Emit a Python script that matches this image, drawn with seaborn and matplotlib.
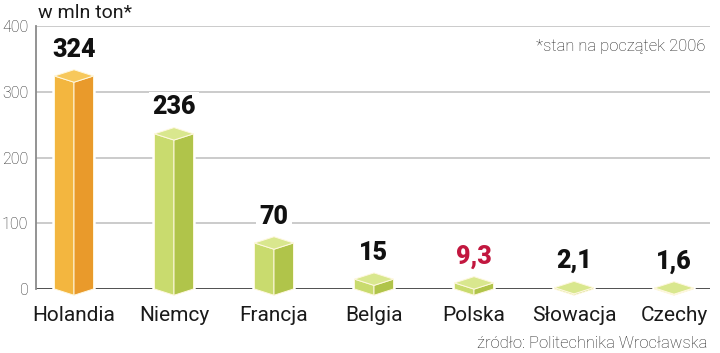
import matplotlib
matplotlib.use('Agg')
import matplotlib.pyplot as plt
import seaborn as sns
import pandas as pd
from matplotlib.patches import Polygon

categories = ['Holandia', 'Niemcy', 'Francja', 'Belgia', 'Polska', 'Słowacja', 'Czechy']
values = [324, 236, 70, 15, 9.3, 2.1, 1.6]
value_labels = ['324', '236', '70', '15', '9,3', '2,1', '1,6']
yticks = [0, 100, 200, 300, 400]

front_colors = ['#F3B63F'] + ['#C9DB6E'] * 6
side_colors = ['#E99A2B'] + ['#B0C44A'] * 6
top_colors = ['#F7C85C'] + ['#D9E78E'] * 6
label_colors = ['#111111'] * 4 + ['#C2173F'] + ['#111111'] * 2

sns.set_theme(style='white')
plt.rcParams['font.family'] = ['Roboto', 'DejaVu Sans']

fig = plt.figure(figsize=(7.2, 3.53), dpi=100)
ax = fig.add_axes([36 / 720, 1 - 289 / 353, 674 / 720, 263 / 353])
df = pd.DataFrame({'kraj': categories, 'wartosc': values})
sns.barplot(data=df, x='kraj', y='wartosc', hue='kraj', palette=front_colors,
            width=0.39, legend=False, ax=ax, saturation=1, zorder=3, linewidth=0)

ax.set_xlim(-0.38, 6.36)
ax.set_ylim(0, 400)

dd = 9.5  # depth of the prism top in data units
edge = '#FFF8E0'
for i, p in enumerate(ax.patches):
    x0 = p.get_x()
    w = p.get_width() / 2
    c = x0 + w
    v = p.get_height()
    p.set_linewidth(0)
    sil = Polygon([(c - w, 0), (c - w, v), (c, v + dd), (c + w, v), (c + w, 0), (c, -dd)],
                  closed=True, facecolor='white', edgecolor='white', lw=3.2,
                  zorder=2.5, clip_on=False)
    ax.add_patch(sil)
    left = Polygon([(c - w, 0), (c - w, v), (c, v - dd), (c, -dd)], closed=True,
                   facecolor=front_colors[i], edgecolor=edge, lw=0.7, zorder=3.2, clip_on=False)
    right = Polygon([(c, -dd), (c, v - dd), (c + w, v), (c + w, 0)], closed=True,
                    facecolor=side_colors[i], edgecolor=edge, lw=0.7, zorder=3.2, clip_on=False)
    top = Polygon([(c - w, v), (c, v + dd), (c + w, v), (c, v - dd)], closed=True,
                  facecolor=top_colors[i], edgecolor=edge, lw=0.7, zorder=3.3, clip_on=False)
    for poly in (left, right, top):
        ax.add_patch(poly)
    ax.annotate(value_labels[i], (c, v), xytext=(0, 14), textcoords='offset points',
                ha='center', va='baseline', fontsize=18, fontweight='heavy',
                color=label_colors[i], zorder=4,
                bbox=dict(facecolor='white', edgecolor='none', pad=2.5))

for t in yticks[1:]:
    ax.axhline(t, color='#BDBDBD', lw=1.1, zorder=1)
ax.axhline(0, color='#1a1a1a', lw=1.8, zorder=2)

for s in ['top', 'right', 'bottom']:
    ax.spines[s].set_visible(False)
ax.spines['left'].set_color('#8a8a8a')
ax.spines['left'].set_linewidth(1.3)

ax.set_yticks(yticks)
ax.set_yticklabels([str(t) for t in yticks], fontsize=11.5, color='#2a2a2a', fontweight='light')
ax.tick_params(axis='y', length=0, pad=5.5)
ax.tick_params(axis='x', length=0, pad=12, labelsize=15, labelcolor='#1a1a1a')
ax.set_xlabel('')
ax.set_ylabel('')

fig.text(38 / 720, 1 - 13 / 353, 'w mln ton*', fontsize=14, ha='left', va='center', color='#1a1a1a')
fig.text(706 / 720, 1 - 46 / 353, '*stan na początek 2006', fontsize=12, ha='right', va='center',
         color='#222222', fontweight='light')
fig.text(707 / 720, 1 - 344 / 353, 'źródło: Politechnika Wrocławska', fontsize=12, ha='right',
         va='center', color='#222222', fontweight='light')

fig.savefig('out.png', dpi=100)
